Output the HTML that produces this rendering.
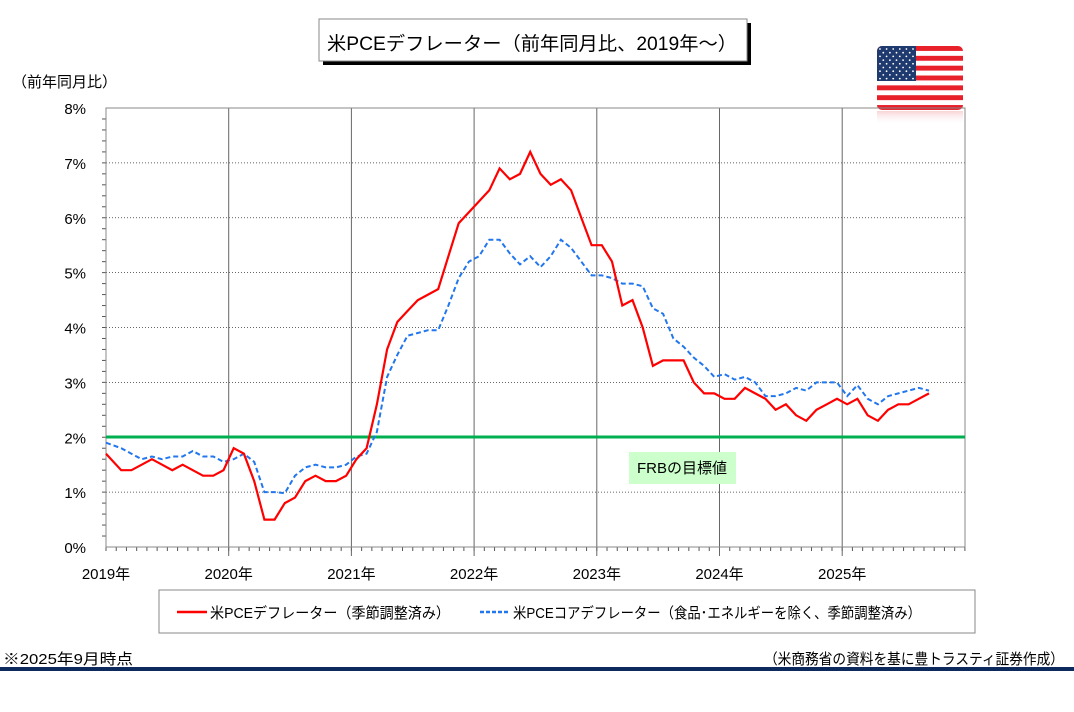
<!DOCTYPE html>
<html><head><meta charset="utf-8"><style>
body{margin:0;background:#fff;width:1074px;height:707px;overflow:hidden;font-family:"Liberation Sans","Noto Sans CJK JP",sans-serif;}
svg text{font-family:"Liberation Sans","Noto Sans CJK JP",sans-serif;}
</style></head><body>
<svg id="s" width="1074" height="707" xmlns="http://www.w3.org/2000/svg">
<defs><linearGradient id="rg" x1="0" y1="0" x2="0" y2="1"><stop offset="0" stop-color="#f7c8ca" stop-opacity="0.8"/><stop offset="1" stop-color="#fff" stop-opacity="0"/></linearGradient></defs>
<rect x="323" y="23" width="428" height="42" fill="#000"/>
<rect x="319" y="19" width="428" height="42" fill="#fff" stroke="#888" stroke-width="1"/>
<text x="327" y="50" font-size="19" textLength="410" lengthAdjust="spacingAndGlyphs">米PCEデフレーター（前年同月比、2019年～）</text>
<g>
<clipPath id="fc"><rect x="877" y="46" width="86" height="64" rx="5"/></clipPath>
<g clip-path="url(#fc)">
<rect x="877" y="46" width="86" height="64" fill="#fff"/>
<g fill="#e8202a" id="stripes"></g>
<rect x="877" y="46" width="39" height="35" fill="#1e3a6e"/>
<g fill="#fff" id="stars"></g>
</g>
<rect x="877" y="111" width="86" height="14" fill="url(#rg)"/>
</g>
<text x="12" y="87" font-size="15">（前年同月比）</text>
<g id="grid"></g>
<rect x="106" y="108" width="859" height="439" fill="none" stroke="#888" stroke-width="1"/>
<line x1="106" y1="437" x2="965" y2="437" stroke="#00b050" stroke-width="3"/>
<rect x="629" y="452" width="107" height="32" fill="#ccffcc"/>
<text x="682" y="473" font-size="15" text-anchor="middle">FRBの目標値</text>
<polyline id="core" fill="none" stroke="#2277ee" stroke-width="2" stroke-dasharray="5,3"/>
<polyline id="head" fill="none" stroke="#ff0000" stroke-width="2.2"/>
<rect x="159" y="590" width="816" height="43" fill="#fff" stroke="#888"/>
<line x1="177" y1="612" x2="207" y2="612" stroke="#ff0000" stroke-width="2.5"/>
<text x="210" y="618" font-size="15" textLength="240" lengthAdjust="spacingAndGlyphs">米PCEデフレーター（季節調整済み）</text>
<line x1="480" y1="612" x2="510" y2="612" stroke="#2277ee" stroke-width="2.5" stroke-dasharray="4,2"/>
<text x="513" y="618" font-size="15" textLength="408" lengthAdjust="spacingAndGlyphs">米PCEコアデフレーター（食品･エネルギーを除く、季節調整済み）</text>
<text x="3" y="664" font-size="15" textLength="130" lengthAdjust="spacingAndGlyphs">※2025年9月時点</text>
<text x="1064" y="664" font-size="15" text-anchor="end" textLength="300" lengthAdjust="spacingAndGlyphs">（米商務省の資料を基に豊トラスティ証券作成）</text>
<rect x="0" y="667" width="1074" height="4" fill="#0d2a5e"/>
</svg>
<script>
var NS="http://www.w3.org/2000/svg";
function el(p,t,a){var e=document.createElementNS(NS,t);for(var k in a)e.setAttribute(k,a[k]);document.getElementById(p).appendChild(e);return e;}
for(var i=0;i<13;i++){if(i%2==0)el("stripes","rect",{x:877,y:46+i*4.92,width:86,height:4.92});}
for(var r=0;r<9;r++)for(var c=0;c<(r%2?5:6);c++)el("stars","circle",{cx:880+c*6.6+(r%2?3.3:0),cy:49+r*3.7,r:0.9});
var X0=106,Y0=547,PY=54.875,YR=122.7;
for(var i=0;i<=8;i++){var y=Y0-i*PY;
 if(i>0&&i<8)el("grid","line",{x1:106,y1:y,x2:965,y2:y,stroke:"#333","stroke-width":0.8,"stroke-dasharray":"1,2"});
 var t=el("grid","text",{x:86,y:y+6,"font-size":15,"text-anchor":"end"});t.textContent=i+"%";}
for(var i=1;i<40;i++){var y=Y0-i*PY/5;el("grid","line",{x1:102,y1:y,x2:106,y2:y,stroke:"#555"});}
el("grid","line",{x1:106,y1:547,x2:965,y2:547,stroke:"#333"});
for(var i=0;i<=84;i++){var x=X0+i*YR/12;el("grid","line",{x1:x,y1:547,x2:x,y2:551,stroke:"#555"});}
for(var k=0;k<7;k++){var x=X0+k*YR;if(k>0)el("grid","line",{x1:x,y1:108,x2:x,y2:556,stroke:"#666","stroke-width":1});
 var t=el("grid","text",{x:x,y:579,"font-size":15,"text-anchor":"middle"});t.textContent=(2019+k)+"年";}
var head=[1.7,1.4,1.4,1.5,1.6,1.5,1.4,1.5,1.4,1.3,1.3,1.4,
1.8,1.7,1.2,0.5,0.5,0.8,0.9,1.2,1.3,1.2,1.2,1.3,
1.6,1.8,2.6,3.6,4.1,4.3,4.5,4.6,4.7,5.3,5.9,6.1,
6.3,6.5,6.9,6.7,6.8,7.2,6.8,6.6,6.7,6.5,6.0,5.5,
5.5,5.2,4.4,4.5,4.0,3.3,3.4,3.4,3.4,3.0,2.8,2.8,
2.7,2.7,2.9,2.8,2.7,2.5,2.6,2.4,2.3,2.5,2.6,2.7,
2.6,2.7,2.4,2.3,2.5,2.6,2.6,2.7,2.8];
var core=[1.9,1.8,1.7,1.6,1.65,1.6,1.65,1.65,1.75,1.65,1.65,1.55,
1.6,1.7,1.55,1.0,1.0,0.98,1.3,1.45,1.5,1.45,1.45,1.5,
1.65,1.7,2.1,3.1,3.5,3.85,3.9,3.95,3.95,4.4,4.9,5.2,
5.3,5.6,5.6,5.35,5.15,5.3,5.1,5.3,5.6,5.45,5.2,4.95,
4.95,4.9,4.8,4.8,4.75,4.35,4.25,3.8,3.65,3.45,3.3,3.1,
3.15,3.05,3.1,3.0,2.75,2.75,2.8,2.9,2.85,3.0,3.0,3.0,
2.75,2.95,2.7,2.6,2.75,2.8,2.85,2.9,2.85];
function px(i){return i==0?106:111+i*YR/12;}
function pts(a){return a.map(function(v,i){return px(i).toFixed(1)+","+(Y0-v*PY).toFixed(1);}).join(" ");}
document.getElementById("head").setAttribute("points",pts(head));
document.getElementById("core").setAttribute("points",pts(core));
</script>
</body></html>
